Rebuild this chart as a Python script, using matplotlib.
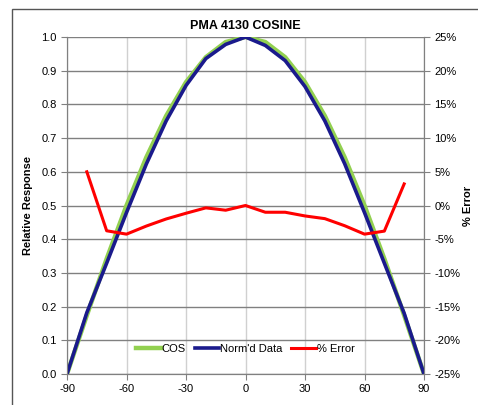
import matplotlib
matplotlib.use("Agg")
import matplotlib.pyplot as plt
from matplotlib.patches import Rectangle
from matplotlib.ticker import FuncFormatter

# Angle (deg) and series
angle = [-90, -80, -70, -60, -50, -40, -30, -20, -10, 0,
         10, 20, 30, 40, 50, 60, 70, 80, 90]
cos_vals = [0.0, 0.174, 0.342, 0.5, 0.643, 0.766, 0.866, 0.940, 0.985, 1.0,
            0.985, 0.940, 0.866, 0.766, 0.643, 0.5, 0.342, 0.174, 0.0]
normd = [0.0, 0.182, 0.329, 0.479, 0.623, 0.751, 0.856, 0.936, 0.978, 1.0,
         0.975, 0.930, 0.853, 0.751, 0.624, 0.479, 0.329, 0.180, 0.0]

err_angle = [-80, -70, -60, -50, -40, -30, -20, -10, 0,
             10, 20, 30, 40, 50, 60, 70, 80]
err_pct = [5.0, -3.75, -4.25, -3.05, -2.0, -1.15, -0.35, -0.7, 0.0,
           -1.0, -1.0, -1.55, -1.95, -3.0, -4.25, -3.8, 3.2]

plt.rcParams['font.family'] = ['Liberation Sans', 'DejaVu Sans']
plt.rcParams['axes.unicode_minus'] = False

fig = plt.figure(figsize=(4.78, 4.05), dpi=100)
fig.patches.append(Rectangle((12 / 478, -0.1), 1.2, 1 - 9 / 405 + 0.1,
                             transform=fig.transFigure, fill=False,
                             edgecolor='#555555', linewidth=1.0))

ax = fig.add_axes([67 / 478, 31 / 405, 357 / 478, 337 / 405])
ax2 = ax.twinx()

l1, = ax.plot(angle, cos_vals, color='#92d050', lw=3.2, label='COS', zorder=3)
l2, = ax.plot(angle, normd, color='#1a1a8c', lw=2.6, label="Norm'd Data", zorder=4)
l3, = ax2.plot(err_angle, err_pct, color='#ff0000', lw=2.2, label='% Error')

ax.set_xlim(-90, 90)
ax.set_ylim(0, 1.0)
ax.set_xticks(range(-90, 91, 30))
ax.set_yticks([i / 10 for i in range(11)])
ax.yaxis.set_major_formatter(FuncFormatter(lambda v, p: f'{v:.1f}'))
ax2.set_ylim(-25, 25)
ax2.set_yticks(range(-25, 26, 5))
ax2.yaxis.set_major_formatter(FuncFormatter(lambda v, p: f'{v:.0f}%'))

for a in (ax, ax2):
    for s in a.spines.values():
        s.set_color('#808080')
    a.tick_params(labelsize=8, color='#808080', length=4, direction='out')
ax.spines['top'].set_visible(False)
ax2.spines['top'].set_visible(False)

ax.set_axisbelow(True)
ax.yaxis.grid(True, color='#808080', lw=1.0)
ax.xaxis.grid(True, color='#d0d0d0', lw=1.0)

ax.set_title('PMA 4130 COSINE', fontsize=9, fontweight='bold', pad=6)
ax.set_ylabel('Relative Response', fontsize=8, fontweight='bold', labelpad=6)
ax2.set_ylabel('% Error', fontsize=8, fontweight='bold', labelpad=2)

ax2.legend(handles=[l1, l2, l3], loc='lower center', bbox_to_anchor=(0.5, 0.03),
           ncol=3, frameon=False, fontsize=8, handlelength=2.2,
           handletextpad=0.1, columnspacing=0.8)

fig.savefig('out.png', dpi=100)
